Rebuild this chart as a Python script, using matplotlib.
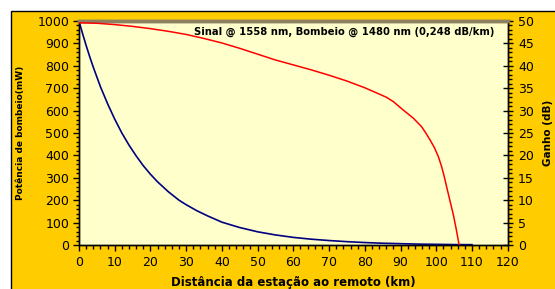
import matplotlib
matplotlib.use("Agg")
import matplotlib.pyplot as plt
import matplotlib.patches as mpatches
from matplotlib.ticker import MultipleLocator

# potencia de bombeio (mW) x distancia (km)
dist_bomb = [0, 1, 2, 3, 4, 6, 8, 10, 12, 14, 16, 18, 20, 22, 25, 28, 30, 33,
             36, 40, 45, 50, 55, 60, 65, 70, 75, 80, 85, 90, 95, 100, 105, 110]
pot_bomb = [1000, 944, 891, 841, 794, 707, 631, 562, 500, 446, 398, 354, 316,
            282, 238, 200, 180, 153, 130, 102, 78, 59, 45, 34, 26, 20, 15, 11,
            8, 6, 4, 3, 2, 1.5]

# ganho do sinal (dB)
dist_ganho = [0, 5, 10, 15, 20, 25, 30, 35, 40, 45, 50, 55, 60, 65, 70, 75,
              80, 84.3, 86, 88, 90.8, 93.6, 95.9, 97, 98.3, 99.5, 100.6, 101.5,
              102.2, 102.9, 103.8, 104.8, 105.6, 106.4]
ganho = [49.6, 49.5, 49.2, 48.8, 48.3, 47.7, 47.0, 46.1, 45.1, 43.9, 42.6,
         41.3, 40.2, 39.1, 37.9, 36.6, 35.1, 33.6, 33.0, 32.0, 30.1, 28.3,
         26.4, 25.1, 23.4, 21.7, 19.7, 17.5, 15.4, 13.0, 10.0, 6.7, 3.5, 0]

fig = plt.figure(figsize=(5.55, 2.89), dpi=100, facecolor="white")
fundo = mpatches.Rectangle((11 / 555, -0.1), 1.2, 1 - 11 / 289 + 0.1,
                           transform=fig.transFigure, facecolor="#FFCC00",
                           edgecolor="black", linewidth=1, zorder=-10)
fig.patches.append(fundo)

ax = fig.add_axes([0.1423, 0.1522, 0.7725, 0.7751])
ax.set_facecolor("#FFFFCC")
ax2 = ax.twinx()

ax.plot(dist_bomb, pot_bomb, color="#000080", linewidth=1.2, clip_on=False, zorder=3)
ax2.plot(dist_ganho, ganho, color="#FF0000", linewidth=1.1, zorder=3)

ax.set_xlim(0, 120)
ax.set_ylim(0, 1000)
ax2.set_ylim(0, 50)

ax.xaxis.set_major_locator(MultipleLocator(10))
ax.xaxis.set_minor_locator(MultipleLocator(2))
ax.yaxis.set_major_locator(MultipleLocator(100))
ax.yaxis.set_minor_locator(MultipleLocator(20))
ax2.yaxis.set_major_locator(MultipleLocator(5))
ax2.yaxis.set_minor_locator(MultipleLocator(1))

ax.tick_params(axis="x", which="major", direction="out", length=4, width=1, pad=4, labelsize=9)
ax.tick_params(axis="x", which="minor", direction="out", length=3, width=1)
ax.tick_params(axis="y", which="major", direction="out", length=4, width=1, pad=3, labelsize=9)
ax.tick_params(axis="y", which="minor", direction="out", length=2.5, width=1)
ax2.tick_params(axis="y", which="major", direction="inout", length=7, width=1, pad=4, labelsize=9)
ax2.tick_params(axis="y", which="minor", direction="out", length=3, width=1)

for a in (ax, ax2):
    a.spines["top"].set_color("#8C8060")
    a.spines["top"].set_linewidth(2.5)
    for s in ("left", "right", "bottom"):
        a.spines[s].set_color("black")
        a.spines[s].set_linewidth(1)

ax.set_xlabel("Distância da estação ao remoto (km)", fontsize=8.5, fontweight="bold")
ax.xaxis.set_label_coords(0.5, -0.138)
ax.set_ylabel("Potência de bombeio(mW)", fontsize=6.5, fontweight="bold")
ax.yaxis.set_label_coords(-0.127, 0.5)
ax2.set_ylabel("Ganho (dB)", fontsize=7.5, fontweight="bold")
ax2.yaxis.set_label_coords(1.083, 0.5)

ax.text(0.618, 0.951, "Sinal @ 1558 nm, Bombeio @ 1480 nm (0,248 dB/km)",
        transform=ax.transAxes, ha="center", va="center", fontsize=7.2, fontweight="bold")

plt.savefig("out.png", dpi=100, facecolor="white")
